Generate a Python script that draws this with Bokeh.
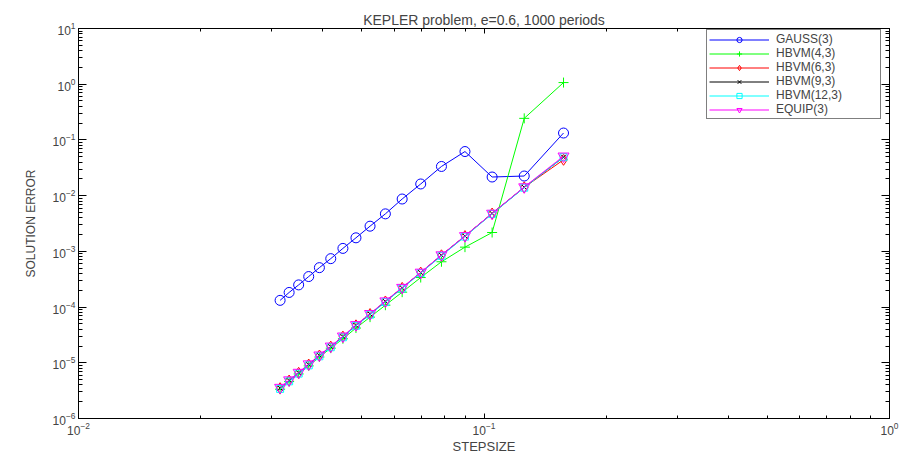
from bokeh.plotting import figure
from bokeh.models import Legend, LegendItem, LogAxis, FixedTicker, Range1d
from bokeh.embed import file_html
from bokeh.resources import INLINE

# stepsizes (2*pi/N, N = 200 ... 40)
stepsize = [0.031416, 0.033069, 0.034907, 0.036960, 0.039270, 0.041888, 0.044880,
            0.048332, 0.052360, 0.057120, 0.062832, 0.069813, 0.078540, 0.089760,
            0.104720, 0.125664, 0.157080]

gauss3 = [1.32e-4, 1.83e-4, 2.50e-4, 3.53e-4, 5.1e-4, 7.4e-4, 1.13e-3, 1.75e-3,
          2.83e-3, 4.71e-3, 8.7e-3, 1.62e-2, 3.34e-2, 6.19e-2, 2.16e-2, 2.25e-2, 0.133]
hbvm43 = [3.35e-6, 4.6e-6, 6.3e-6, 8.8e-6, 1.27e-5, 1.83e-5, 2.7e-5, 4.2e-5,
          6.6e-5, 1.08e-4, 1.85e-4, 3.39e-4, 6.5e-4, 1.19e-3, 2.18e-3, 0.244, 1.07]
hbvm63 = [3.5e-6, 4.8e-6, 6.6e-6, 9.3e-6, 1.35e-5, 1.95e-5, 2.95e-5, 4.7e-5,
          7.5e-5, 1.26e-4, 2.21e-4, 4.16e-4, 8.5e-4, 1.88e-3, 4.77e-3, 1.41e-2, 4.4e-2]
hbvm93 = [3.5e-6, 4.8e-6, 6.6e-6, 9.3e-6, 1.35e-5, 1.95e-5, 2.95e-5, 4.7e-5,
          7.5e-5, 1.26e-4, 2.21e-4, 4.16e-4, 8.5e-4, 1.88e-3, 4.77e-3, 1.41e-2, 4.9e-2]
hbvm123 = [3.4e-6, 4.65e-6, 6.4e-6, 9.0e-6, 1.31e-5, 1.9e-5, 2.87e-5, 4.6e-5,
           7.3e-5, 1.23e-4, 2.16e-4, 4.08e-4, 8.3e-4, 1.84e-3, 4.7e-3, 1.39e-2, 4.9e-2]
equip3 = [3.6e-6, 4.9e-6, 6.7e-6, 9.5e-6, 1.37e-5, 1.98e-5, 3.0e-5, 4.8e-5,
          7.6e-5, 1.28e-4, 2.24e-4, 4.2e-4, 8.6e-4, 1.9e-3, 4.8e-3, 1.43e-2, 5.1e-2]

series = [
    ("GAUSS(3)", gauss3, "#0000ff", "circle", 10),
    ("HBVM(4,3)", hbvm43, "#00ff00", "cross", 10),
    ("HBVM(6,3)", hbvm63, "#ff0000", "diamond", 11),
    ("HBVM(9,3)", hbvm93, "#000000", "x", 7),
    ("HBVM(12,3)", hbvm123, "#00ffff", "square", 7),
    ("EQUIP(3)", equip3, "#ff00ff", "inverted_triangle", 11),
]

x_major = [1e-2, 1e-1, 1e0]
y_major = [1e-6, 1e-5, 1e-4, 1e-3, 1e-2, 1e-1, 1e0, 1e1]
mult = [2, 3, 4, 5, 6, 7, 8, 9]
x_minor = [m * d for d in x_major[:-1] for m in mult]
y_minor = [m * d for d in y_major[:-1] for m in mult]

FONT = "Liberation Sans"

p = figure(width=906, height=456, x_axis_type="log", y_axis_type="log",
           x_range=Range1d(1e-2, 1e0), y_range=Range1d(1e-6, 1e1),
           output_backend="svg", toolbar_location=None,
           min_border_left=78, min_border_right=17, min_border_top=28, min_border_bottom=36)
p.title.text = "KEPLER problem, e=0.6, 1000 periods"
p.title.align = "center"
p.title.text_font = FONT
p.title.text_font_size = "14px"
p.title.text_font_style = "normal"
p.title.standoff = 1
p.grid.visible = False
p.outline_line_color = "black"
p.outline_line_width = 1

def style_axis(ax, ticks, minor, tin, tmin, labels=True):
    ax.ticker = FixedTicker(ticks=ticks, minor_ticks=minor)
    ax.major_tick_in = tin
    ax.major_tick_out = 0
    ax.minor_tick_in = tmin
    ax.minor_tick_out = 0
    ax.axis_line_color = "black"
    ax.major_tick_line_color = "black"
    ax.minor_tick_line_color = "black"
    ax.major_label_text_font = FONT
    if labels:
        ax.major_label_text_font_size = "12px"
        ax.major_label_standoff = 3
    else:
        ax.major_label_text_font_size = "1px"
        ax.major_label_text_color = None
        ax.major_label_standoff = 0
    ax.axis_label_text_font = FONT
    ax.axis_label_text_font_style = "normal"

style_axis(p.xaxis[0], x_major, x_minor, 5, 3)
style_axis(p.yaxis[0], y_major, y_minor, 8, 4)
p.xaxis[0].axis_label = "STEPSIZE"
p.xaxis[0].axis_label_text_font_size = "13px"
p.xaxis[0].axis_label_standoff = 1
p.yaxis[0].axis_label = "SOLUTION ERROR"
p.yaxis[0].axis_label_text_font_size = "12px"
p.yaxis[0].axis_label_standoff = 12

top_ax = LogAxis()
style_axis(top_ax, x_major, x_minor, 5, 3, labels=False)
p.add_layout(top_ax, "above")
right_ax = LogAxis()
style_axis(right_ax, y_major, y_minor, 8, 4, labels=False)
p.add_layout(right_ax, "right")

items = []
for name, vals, color, marker, size in series:
    r1 = p.line(stepsize, vals, line_color=color, line_width=1)
    r2 = p.scatter(stepsize, vals, marker=marker, size=size, line_color=color,
                   fill_color=None, line_width=1)
    items.append(LegendItem(label=name, renderers=[r1, r2]))

legend = Legend(items=items, location=(628, 299), margin=0, padding=2, spacing=0,
                label_height=13, glyph_height=13, glyph_width=60, label_standoff=7,
                label_width=102, label_text_font=FONT, label_text_font_size="12px",
                border_line_color="black", border_line_width=1,
                background_fill_color="white", background_fill_alpha=1)
p.add_layout(legend, "center")

open("out.html", "w").write(file_html(p, INLINE))
